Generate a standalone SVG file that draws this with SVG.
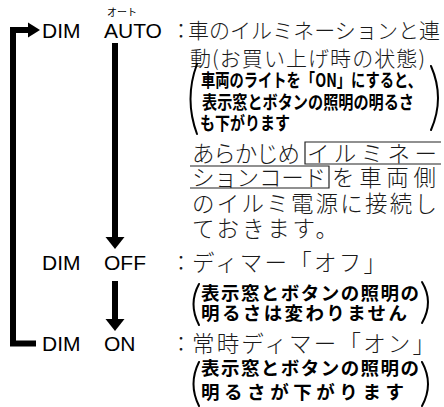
<svg xmlns="http://www.w3.org/2000/svg" width="444" height="407" viewBox="0 0 444 407">
<style>
.dim{font-family:"Liberation Sans",Arial,sans-serif;font-size:21px;fill:#000}
.jp{font-family:"Noto Sans CJK JP Light","Noto Sans CJK JP",sans-serif;font-size:21px;font-weight:300;fill:#1a1a1a}
.jl{font-size:22.5px}
.jb{font-family:"Noto Sans CJK JP",sans-serif;font-size:18.5px;font-weight:700;fill:#000}
.ruby{font-family:"Noto Sans CJK JP",sans-serif;font-size:10px;font-weight:400;fill:#000}
.par{fill:none;stroke:#000;stroke-width:2;stroke-linecap:round}
.box{fill:none;stroke:#222;stroke-width:1.2}
.thick{fill:none;stroke:#000;stroke-width:6;stroke-linejoin:miter}
</style>
<g id="connectors">
<path class="thick" d="M36,343.5 H13 V30 H30"/>
<polygon points="28,22.5 40,30 28,37.5" fill="#000"/>
<line class="thick" x1="115" y1="43" x2="115" y2="238"/>
<polygon points="105.5,237 124.5,237 115,249" fill="#000"/>
<line class="thick" x1="115" y1="281" x2="115" y2="320"/>
<polygon points="105.5,319 124.5,319 115,331" fill="#000"/>
</g>
<g id="node-auto">
<text class="ruby" x="107" y="16">オート</text>
<text class="dim" x="42" y="37.5">DIM</text>
<text class="dim" x="104" y="37.5">AUTO</text>
<text class="jp" x="181" y="38" text-anchor="middle">：</text>
<text class="jp" x="188" y="38" textLength="252" lengthAdjust="spacing">車のイルミネーションと連</text>
<text class="jp" x="190" y="66" textLength="235" lengthAdjust="spacing">動(お買い上げ時の状態)</text>
<path class="par" d="M197,64 Q184,99 197,134"/>
<path class="par" d="M431,66 Q445,98 431,130"/>
<text class="jb" x="201" y="87" textLength="221" lengthAdjust="spacingAndGlyphs">車両のライトを「ON」にすると、</text>
<text class="jb" x="202" y="109" textLength="212" lengthAdjust="spacingAndGlyphs">表示窓とボタンの照明の明るさ</text>
<text class="jb" x="200" y="130" textLength="90" lengthAdjust="spacingAndGlyphs">も下がります</text>
<text class="jp jl" x="192" y="161.5" textLength="108" lengthAdjust="spacing">あらかじめ</text>
<text class="jp jl" x="307" y="161.5" textLength="130" lengthAdjust="spacing">イルミネー</text>
<path class="box" d="M441,142 H305 V164 H441"/>
<text class="jp jl" x="192" y="185.5" textLength="134" lengthAdjust="spacing">ションコード</text>
<path class="box" d="M190,166 H329 V188 H190"/>
<text class="jp jl" x="332" y="185.5" textLength="104" lengthAdjust="spacing">を車両側</text>
<text class="jp jl" x="192" y="211.5" textLength="245" lengthAdjust="spacing">のイルミ電源に接続し</text>
<text class="jp jl" x="192" y="236.5" textLength="146" lengthAdjust="spacing">ておきます。</text>
</g>
<g id="node-off">
<text class="dim" x="42" y="269.5">DIM</text>
<text class="dim" x="104" y="269.5">OFF</text>
<text class="jp" x="181" y="270" text-anchor="middle">：</text>
<text class="jp jl" x="192" y="270.5" textLength="194" lengthAdjust="spacing">ディマー「オフ」</text>
<path class="par" d="M199,284 Q188,304 199,325"/>
<path class="par" d="M422,282 Q434,302 422,323"/>
<text class="jb" x="201" y="300" textLength="218" lengthAdjust="spacing">表示窓とボタンの照明の</text>
<text class="jb" x="201" y="320" textLength="206" lengthAdjust="spacing">明るさは変わりません</text>
</g>
<g id="node-on">
<text class="dim" x="42" y="350.5">DIM</text>
<text class="dim" x="104" y="350.5">ON</text>
<text class="jp" x="181" y="351" text-anchor="middle">：</text>
<text class="jp jl" x="192" y="351.5" textLength="243" lengthAdjust="spacing">常時ディマー「オン」</text>
<path class="par" d="M199,362 Q188,384 199,406"/>
<path class="par" d="M422,362 Q434,384 422,406"/>
<text class="jb" x="201" y="375" textLength="218" lengthAdjust="spacing">表示窓とボタンの照明の</text>
<text class="jb" x="201" y="399" textLength="203" lengthAdjust="spacing">明るさが下がります</text>
</g>
</svg>
